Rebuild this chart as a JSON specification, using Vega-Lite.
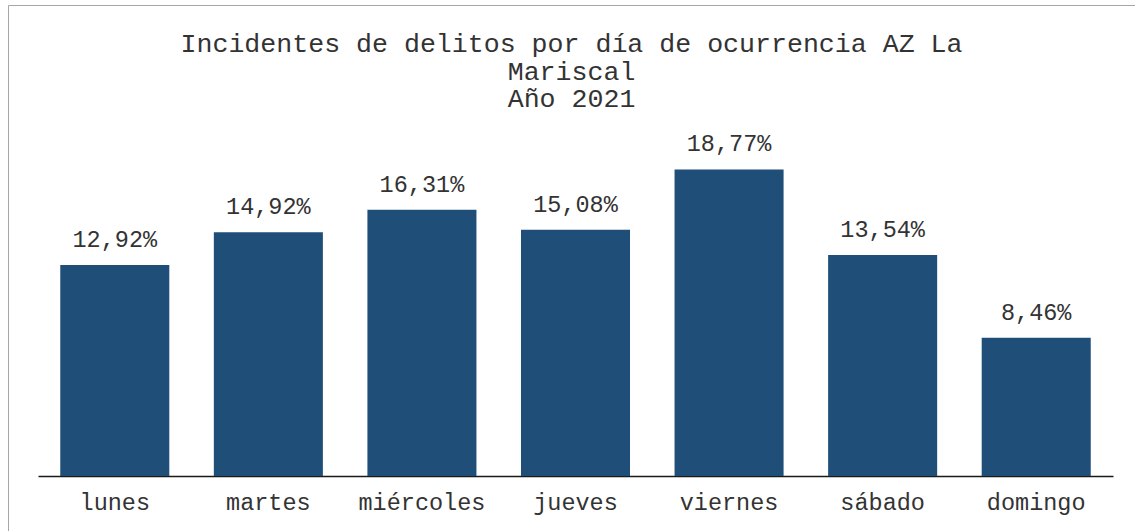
{
  "$schema": "https://vega.github.io/schema/vega-lite/v6.json",
  "width": 1127,
  "height": 526,
  "autosize": {"type": "none"},
  "padding": {"left": 8, "top": 5, "right": 0, "bottom": 0},
  "background": "white",
  "config": {
    "locale": {"number": {"decimal": ",", "thousands": ".", "grouping": [3], "currency": ["", " €"]}},
    "view": {"stroke": "#a6a6a6", "strokeWidth": 1},
    "font": "Liberation Mono"
  },
  "title": {
    "text": ["Incidentes de delitos por día de ocurrencia AZ La", "Mariscal", "Año 2021"],
    "font": "Liberation Mono",
    "fontSize": 26.6,
    "fontWeight": "normal",
    "color": "#333333",
    "lineHeight": 27.5,
    "anchor": "middle",
    "offset": -108
  },
  "data": {
    "values": [
      {"dia": "lunes", "pct": 0.1292},
      {"dia": "martes", "pct": 0.1492},
      {"dia": "miércoles", "pct": 0.1631},
      {"dia": "jueves", "pct": 0.1508},
      {"dia": "viernes", "pct": 0.1877},
      {"dia": "sábado", "pct": 0.1354},
      {"dia": "domingo", "pct": 0.0846}
    ]
  },
  "encoding": {
    "x": {
      "field": "dia",
      "type": "nominal",
      "sort": null,
      "scale": {"range": [30, 1105], "paddingInner": 0.29, "paddingOuter": 0.145},
      "axis": {
        "title": null,
        "labelAngle": 0,
        "labelFont": "Liberation Mono",
        "labelFontSize": 23.5,
        "labelColor": "#333333",
        "labelPadding": 14,
        "ticks": false,
        "domainColor": "#1a1a1a",
        "domainWidth": 1.5,
        "offset": -55,
        "grid": false
      }
    },
    "y": {
      "field": "pct",
      "type": "quantitative",
      "scale": {"domain": [0, 0.2], "range": [471, 144.4], "nice": false, "zero": true},
      "axis": null
    }
  },
  "layer": [
    {"mark": {"type": "bar", "color": "#1f4e79"}},
    {
      "mark": {"type": "text", "baseline": "alphabetic", "dy": -18, "fontSize": 23.5, "font": "Liberation Mono", "color": "#333333"},
      "encoding": {"text": {"field": "pct", "type": "quantitative", "format": ".2%"}}
    }
  ]
}
